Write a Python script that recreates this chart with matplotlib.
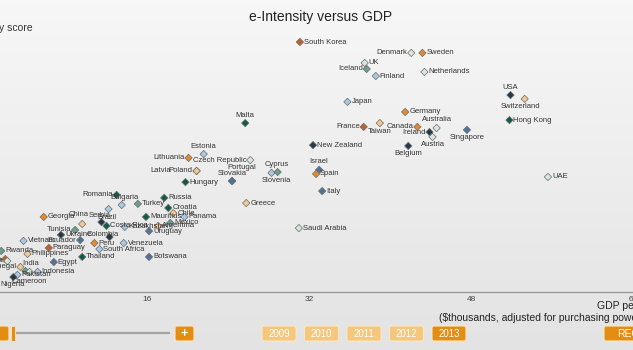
import matplotlib
matplotlib.use("Agg")
import matplotlib.pyplot as plt
import numpy as np
from matplotlib.patches import FancyBboxPatch, Rectangle
from matplotlib.colors import LinearSegmentedColormap

plt.rcParams['font.family'] = ['Liberation Sans', 'DejaVu Sans']

# ---------------- data ----------------
countries = ["South Korea", "Denmark", "Sweden", "UK", "Iceland", "Finland", "Netherlands",
             "USA", "Switzerland", "Japan", "Germany", "Australia", "France", "Taiwan",
             "Canada", "Ireland", "Austria", "Singapore", "Belgium", "Hong Kong",
             "New Zealand", "Israel", "Spain", "Italy", "Saudi Arabia", "UAE", "Malta",
             "Estonia", "Lithuania", "Czech Republic", "Latvia", "Poland", "Hungary",
             "Portugal", "Slovakia", "Cyprus", "Slovenia", "Greece", "Russia", "Croatia",
             "Turkey", "Romania", "Bulgaria", "Panama", "Mauritius", "Chile", "Mexico",
             "Costa Rica", "Kazakhstan", "Uruguay", "Argentina", "Serbia", "Brazil", "China",
             "Georgia", "Tunisia", "Ukraine", "Colombia", "Ecuador", "Vietnam", "Peru",
             "Venezuela", "South Africa", "Paraguay", "Thailand", "Botswana", "Philippines",
             "Rwanda", "Ghana", "Kenya", "Senegal", "India", "Egypt", "Indonesia",
             "Pakistan", "Nigeria", "Cameroon"]

gdp = [31.1, 42.1, 43.2, 37.5, 37.7, 38.6, 43.4,
       51.9, 53.3, 35.8, 41.5, 44.6, 37.4, 39.0,
       42.7, 43.9, 44.2, 47.6, 41.8, 51.8,
       32.4, 33.0, 32.7, 33.3, 31.0, 55.6, 25.7,
       21.6, 20.1, 26.2, 20.9, 20.9, 19.8,
       24.4, 24.4, 28.3, 28.9, 25.8, 17.7, 18.1,
       15.1, 13.0, 13.5, 19.7, 15.9, 18.6, 18.3,
       12.0, 13.8, 16.2, 17.1, 12.2, 11.5, 9.6,
       5.8, 8.9, 7.5, 12.3, 9.4, 3.8, 10.8,
       13.7, 11.3, 6.3, 9.6, 16.2, 4.2,
       1.6, 2.0, 2.2, 3.5, 4.0, 6.8, 5.2,
       3.2, 2.8, 4.4]

score = [91.9, 87.9, 87.9, 84.2, 82.0, 79.4, 80.9,
         72.4, 71.0, 69.9, 66.2, 60.3, 60.7, 62.1,
         60.7, 58.8, 57.0, 59.6, 53.7, 63.2,
         54.0, 44.9, 43.4, 37.1, 23.5, 42.3, 62.1,
         50.7, 49.3, 48.5, 44.5, 44.5, 40.4,
         40.8, 40.8, 43.8, 44.1, 32.7, 34.6, 30.9,
         32.4, 35.7, 32.0, 27.6, 27.6, 29.0, 25.4,
         24.3, 23.9, 22.4, 24.3, 30.5, 25.7, 25.0,
         27.6, 22.8, 21.0, 20.2, 19.1, 18.8, 18.0,
         18.0, 15.8, 16.2, 12.9, 12.9, 14.0,
         15.1, 12.1, 11.4, 9.2, 7.7, 11.0, 7.4,
         6.3, 5.5, 7.4]

group = ["br", "pt", "or", "pt", "tl", "lb", "pt",
         "ds", "po", "lb", "or", "pt", "br", "po",
         "or", "ds", "pt", "sb", "ds", "dg",
         "ds", "sb", "or", "sb", "pt", "pt", "dg",
         "lb", "or", "pt", "po", "po", "dg",
         "sb", "sb", "lb", "tl", "po", "dg", "dg",
         "tl", "dg", "lb", "lb", "dg", "po", "tl",
         "dg", "lb", "sb", "po", "lb", "ds", "po",
         "or", "tl", "ds", "ds", "sb", "lb", "or",
         "lb", "lb", "br", "dg", "sb", "po",
         "tl", "br", "pt", "po", "tl", "sb", "lb",
         "lb", "ds", "pt"]

label_pos = ["r", "l", "r", "r", "l", "r", "r",
             "a", (-4, -8, "center"), "r", "r", "a", "l", "b",
             "l", "l", "b", "b", "b", "r",
             "r", "a", "r", "r", "r", "r", "a",
             "a", "l", "l", (-26, 0, "right"), "l", "r",
             (10, 14, "center"), "a", (5, 8, "center"), (-1, -8, "center"), "r", "r", "r",
             "r", "l", (3, 7, "center"), "r", "r", "r", "r",
             "r", "r", "r", "r", (-9, -6, "center"), (6, 5, "center"), (-4, 9, "center"),
             "r", "l", "r", (-7, 3, "center"), "l", "r", "r",
             "r", "r", "r", "r", "r", "r",
             "r", "l", "l", "l", (-3, 8, "left"), "r", "r",
             "r", (-1, -7, "center"), (0, -10, "center")]

x_ticks = [16, 32, 48, 64]
years = ["2009", "2010", "2011", "2012", "2013"]
selected_year = "2013"

palette = {
    "or": "#e38b2a", "br": "#c2602b", "po": "#f2c98f",
    "dg": "#0f5b48", "tl": "#6c9e8c", "pt": "#d6e7de",
    "lb": "#a9c9e7", "sb": "#4f7399", "ds": "#253847",
}

# ---------------- figure ----------------
fig = plt.figure(figsize=(6.33, 3.5), dpi=100)
bg = fig.add_axes([0, 0, 1, 1])
bg.set_xlim(0, 633)
bg.set_ylim(350, 0)
bg.axis("off")
cmap = LinearSegmentedColormap.from_list("g", ["#f7f7f7", "#ededed", "#e3e3e3"])
bg.imshow(np.linspace(0, 1, 350)[:, None], extent=[0, 633, 350, 0], cmap=cmap,
          aspect="auto", zorder=0)

# title / axis titles
bg.text(321, 17, "e-Intensity versus GDP", ha="center", va="center", fontsize=10, color="#222222")
bg.text(33, 28, "e-Intensity score", ha="right", va="center", fontsize=7.5, color="#333333")
bg.text(597, 306, "GDP per capita", ha="left", va="center", fontsize=7.5, color="#222222")
bg.text(439, 318, "($thousands, adjusted for purchasing power parity)", ha="left", va="center",
        fontsize=7.5, color="#222222")

# controls
orange = "#e38d12"
pale = "#f4c77c"
def button(x, w, fc, text=None, tx=None, ha="center", fs=7, bold=False):
    bg.add_patch(FancyBboxPatch((x, 326), w, 15, boxstyle="round,pad=0,rounding_size=2",
                                fc=fc, ec="#fbe7c4", lw=0.8, zorder=2))
    if text is not None:
        bg.text(tx if tx is not None else x + w / 2, 333.8, text, ha=ha, va="center",
                fontsize=fs, color="white", zorder=3, fontweight="bold" if bold else "normal")

button(-12, 21, orange)
bg.add_patch(Rectangle((11, 326), 4, 15, fc=orange, ec="#fbe7c4", lw=0.6, zorder=2))
bg.plot([16, 170], [333, 333], color="#a4a4a4", lw=1.6, zorder=1, solid_capstyle="butt")
button(175, 19, orange, "+", fs=9, bold=True)
for i, yr in enumerate(years):
    button(262 + i * 42.5, 34, orange if yr == selected_year else pale, yr)
button(604, 60, orange, "RECORD", tx=617, ha="left", fs=7.5)

# data axes
ax = fig.add_axes([-15 / 633, 58 / 350, 648 / 633, 272 / 350])
ax.patch.set_alpha(0)
ax.set_xlim(0, 64)
ax.set_ylim(0, 100)
for s in ["top", "right", "left"]:
    ax.spines[s].set_visible(False)
ax.spines["bottom"].set_color("#9a9a9a")
ax.spines["bottom"].set_linewidth(1.0)
ax.set_xticks(x_ticks)
ax.set_xticklabels([str(t) for t in x_ticks])
ax.tick_params(axis="x", length=0, pad=3, labelsize=6, labelcolor="#444444")
ax.set_yticks([])

cols = [palette[g] for g in group]
ax.scatter(gdp, score, marker="D", s=14, c=cols, edgecolors="#6b6b6b", linewidths=0.5,
           zorder=3, clip_on=False)

for name, x, y, pos in zip(countries, gdp, score, label_pos):
    if pos == "r":
        dx, dy, ha = 4, 0, "left"
    elif pos == "l":
        dx, dy, ha = -4, 0, "right"
    elif pos == "a":
        dx, dy, ha = 0, 8, "center"
    elif pos == "b":
        dx, dy, ha = 0, -8, "center"
    else:
        dx, dy, ha = pos
    ax.annotate(name, (x, y), xytext=(dx, dy), textcoords="offset pixels", ha=ha, va="center",
                fontsize=5.5, color="#333333", zorder=4)

fig.savefig("out.png", dpi=100)
